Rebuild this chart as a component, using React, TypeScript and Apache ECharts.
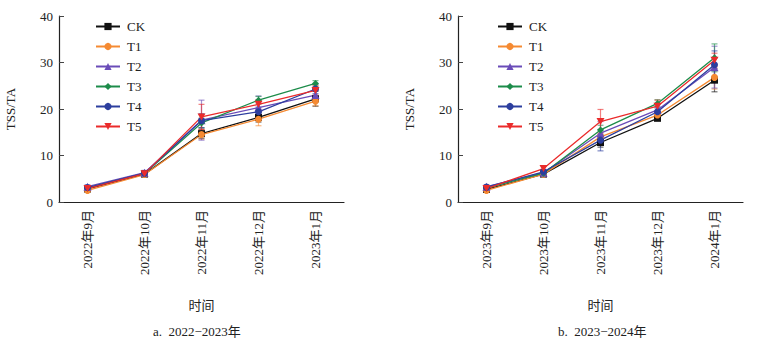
import React, { useEffect, useRef } from "react";
import * as echarts from "echarts";

const seriesNames = ["CK", "T1", "T2", "T3", "T4", "T5"];
const months1 = ["2022年9月", "2022年10月", "2022年11月", "2022年12月", "2023年1月"];
const months2 = ["2023年9月", "2023年10月", "2023年11月", "2023年12月", "2024年1月"];
const yTicks = [0, 10, 20, 30, 40];

// 2022-2023
const ck1 = [2.8, 6.0, 14.7, 18.2, 22.2];
const t11 = [2.5, 5.9, 14.5, 17.8, 21.7];
const t21 = [3.3, 6.3, 17.6, 20.3, 23.0];
const t31 = [3.0, 6.1, 17.0, 21.9, 25.5];
const t41 = [3.1, 6.2, 17.5, 19.4, 24.3];
const t51 = [2.9, 6.1, 18.3, 21.0, 24.0];
const ckErr1 = [0.3, 0.3, 1.0, 1.0, 1.6];
const t1Err1 = [0.3, 0.3, 1.0, 1.4, 1.0];
const t2Err1 = [0.4, 0.5, 4.3, 2.5, 1.0];
const t3Err1 = [0.3, 0.3, 1.0, 0.8, 0.6];
const t4Err1 = [0.3, 0.3, 1.5, 1.0, 1.0];
const t5Err1 = [0.3, 0.3, 2.7, 1.0, 1.0];

// 2023-2024
const ck2 = [2.7, 6.0, 12.8, 18.0, 26.2];
const t12 = [2.5, 6.0, 14.0, 18.7, 26.8];
const t22 = [3.3, 6.3, 14.8, 19.8, 29.0];
const t32 = [3.0, 6.2, 15.5, 21.2, 31.0];
const t42 = [3.2, 6.5, 13.3, 19.4, 29.5];
const t52 = [2.9, 7.2, 17.3, 20.6, 30.5];
const ckErr2 = [0.3, 0.4, 1.0, 0.5, 2.5];
const t1Err2 = [0.3, 0.4, 1.0, 0.7, 2.5];
const t2Err2 = [0.4, 0.5, 2.5, 0.8, 4.5];
const t3Err2 = [0.3, 0.4, 1.0, 0.8, 3.0];
const t4Err2 = [0.3, 0.5, 2.3, 0.8, 3.0];
const t5Err2 = [0.3, 0.6, 2.6, 1.3, 1.5];

const colors = ["#111111", "#f58a32", "#6a4cb8", "#1d8c4a", "#2c3e9e", "#ea2b2b"];
const symbols = [
  "rect",
  "circle",
  "triangle",
  "diamond",
  "circle",
  "path://M0,0 L10,0 L5,9 Z",
];

const vals1 = [ck1, t11, t21, t31, t41, t51];
const errs1 = [ckErr1, t1Err1, t2Err1, t3Err1, t4Err1, t5Err1];
const vals2 = [ck2, t12, t22, t32, t42, t52];
const errs2 = [ckErr2, t1Err2, t2Err2, t3Err2, t4Err2, t5Err2];

const FONT = "'Liberation Serif', 'Times New Roman', 'Noto Sans CJK SC', serif";

export default function App() {
  const ref = useRef<HTMLDivElement>(null);
  useEffect(() => {
    if (!ref.current) return;
    const chart = echarts.init(ref.current, undefined, { renderer: "svg" });

    const grids = [
      { left: 59, top: 16, width: 285, height: 186 },
      { left: 458, top: 16, width: 285, height: 186 },
    ];

    const mkX = (i: number, cats: string[]) => ({
      type: "category",
      gridIndex: i,
      data: cats,
      boundaryGap: true,
      name: "时间",
      nameLocation: "middle",
      nameGap: 97,
      nameTextStyle: { fontFamily: FONT, fontSize: 13, color: "#222" },
      axisLine: { lineStyle: { color: "#222", width: 1.2 } },
      axisTick: { alignWithLabel: true, inside: true, length: 6, lineStyle: { color: "#444" } },
      axisLabel: { rotate: 90, margin: 8, fontFamily: FONT, fontSize: 13, color: "#222" },
      splitLine: { show: false },
    });
    const mkY = (i: number) => ({
      type: "value",
      gridIndex: i,
      min: yTicks[0],
      max: yTicks[yTicks.length - 1],
      interval: 10,
      name: "TSS/TA",
      nameLocation: "middle",
      nameGap: 42,
      nameTextStyle: { fontFamily: FONT, fontSize: 13, color: "#222" },
      axisLine: { show: true, lineStyle: { color: "#222", width: 1.2 } },
      axisTick: { show: true, inside: true, length: 5, lineStyle: { color: "#444" } },
      axisLabel: { margin: 6, fontFamily: FONT, fontSize: 13, color: "#222" },
      splitLine: { show: false },
    });

    const series: any[] = [];
    const addSet = (gi: number, vals: number[][], errs: number[][]) => {
      seriesNames.forEach((name, k) => {
        const col = colors[k];
        series.push({
          type: "custom",
          name: name + "_err" + gi,
          xAxisIndex: gi,
          yAxisIndex: gi,
          z: 1,
          data: vals[k].map((v, j) => [j, v, errs[k][j]]),
          encode: { x: 0, y: 1 },
          renderItem: (params: any, api: any) => {
            const x = api.value(0);
            const v = api.value(1);
            const e = api.value(2);
            const hi = api.coord([x, v + e]);
            const lo = api.coord([x, v - e]);
            const w = 3;
            const st = { stroke: col, lineWidth: 1.2, opacity: 0.6 };
            return {
              type: "group",
              children: [
                { type: "line", shape: { x1: hi[0], y1: hi[1], x2: lo[0], y2: lo[1] }, style: st },
                { type: "line", shape: { x1: hi[0] - w, y1: hi[1], x2: hi[0] + w, y2: hi[1] }, style: st },
                { type: "line", shape: { x1: lo[0] - w, y1: lo[1], x2: lo[0] + w, y2: lo[1] }, style: st },
              ],
            };
          },
        });
        series.push({
          type: "line",
          name,
          xAxisIndex: gi,
          yAxisIndex: gi,
          z: 2,
          data: vals[k],
          symbol: symbols[k],
          symbolSize: k === 5 ? [8, 7] : k === 2 ? 8 : 7,
          lineStyle: { color: col, width: 1.3 },
          itemStyle: { color: col },
        });
      });
    };
    addSet(0, vals1, errs1);
    addSet(1, vals2, errs2);

    const mkLegend = (left: number) => ({
      orient: "vertical",
      left,
      top: 20,
      padding: 0,
      itemGap: 7,
      itemWidth: 24,
      itemHeight: 9,
      data: seriesNames,
      textStyle: { fontFamily: FONT, fontSize: 13, color: "#222", padding: [0, 0, 0, 2] },
      selectedMode: false,
    });

    chart.setOption({
      animation: false,
      backgroundColor: "#ffffff",
      grid: grids,
      xAxis: [mkX(0, months1), mkX(1, months2)],
      yAxis: [mkY(0), mkY(1)],
      legend: [mkLegend(95), mkLegend(497)],
      series,
      graphic: [
        {
          type: "text",
          left: 153,
          top: 325,
          style: { text: "a.  2022−2023年", font: `13px ${FONT}`, fill: "#222" },
        },
        {
          type: "text",
          left: 558,
          top: 325,
          style: { text: "b.  2023−2024年", font: `13px ${FONT}`, fill: "#222" },
        },
      ],
    });
    return () => chart.dispose();
  }, []);
  return (
    <div
      ref={ref}
      style={{ position: "absolute", left: 0, top: 0, width: 760, height: 346, background: "#fff" }}
    />
  );
}
